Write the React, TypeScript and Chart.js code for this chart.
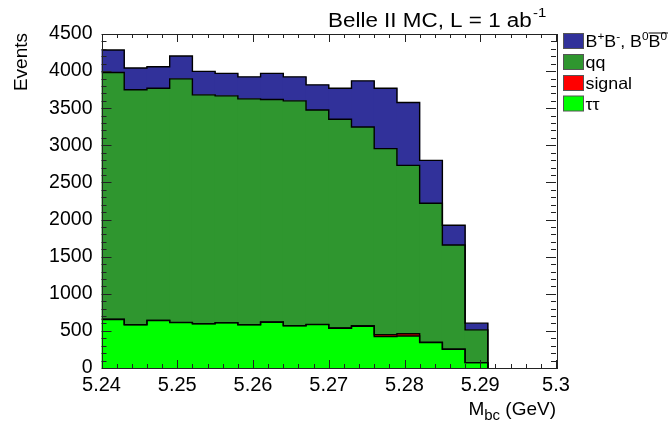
import React, { useEffect, useRef } from "react";
import { Chart, registerables } from "chart.js";

Chart.register(...registerables);

// ---- data ----
const binEdges = [
  5.24, 5.243, 5.246, 5.249, 5.252, 5.255, 5.258, 5.261, 5.264, 5.267,
  5.27, 5.273, 5.276, 5.279, 5.282, 5.285, 5.288, 5.291,
];
const tauTau = [653, 581, 639, 612, 595, 608, 581, 617, 568, 585, 536, 563, 423, 432, 342, 252, 72];
const signal = [3, 3, 3, 3, 3, 3, 3, 3, 3, 3, 3, 8, 25, 30, 4, 2, 0];
const qqbar = [3326, 3164, 3128, 3281, 3082, 3056, 3042, 2997, 3028, 2889, 2812, 2677, 2507, 2268, 1874, 1404, 442];
const bbbar = [302, 293, 288, 307, 316, 302, 297, 352, 324, 338, 419, 621, 815, 847, 577, 265, 90];

const xTickValues = [5.24, 5.25, 5.26, 5.27, 5.28, 5.29, 5.3];
const yTickValues = [0, 500, 1000, 1500, 2000, 2500, 3000, 3500, 4000, 4500];
const xMinorStep = 0.002;
const yMinorStep = 100;

const COLORS = {
  bb: "#31319a",
  qq: "#2f962f",
  sig: "#ff0000",
  tau: "#00ff00",
};

const FONT = "'Liberation Sans', Arial, Helvetica, sans-serif";

function cumulative(...series: number[][]) {
  return series[0].map((_, i) => series.reduce((s, arr) => s + arr[i], 0));
}

const framePlugin = {
  id: "rootFrame",
  afterDraw(chart: any) {
    const { ctx, chartArea, scales } = chart;
    const { left, right, top, bottom } = chartArea;
    const xs = scales.x;
    const ys = scales.y;
    ctx.save();
    ctx.strokeStyle = "#222";
    ctx.lineWidth = 1;
    ctx.strokeRect(Math.round(left) + 0.5, Math.round(top) + 0.5, Math.round(right - left), Math.round(bottom - top));
    ctx.beginPath();
    const xMin = xTickValues[0];
    const xMax = xTickValues[xTickValues.length - 1];
    const nx = Math.round((xMax - xMin) / xMinorStep);
    for (let k = 0; k <= nx; k++) {
      const v = xMin + k * xMinorStep;
      const px = Math.round(xs.getPixelForValue(v)) + 0.5;
      const len = k % 5 === 0 ? 8 : 4;
      ctx.moveTo(px, bottom);
      ctx.lineTo(px, bottom - len);
      ctx.moveTo(px, top);
      ctx.lineTo(px, top + len);
    }
    const yMin = yTickValues[0];
    const yMax = yTickValues[yTickValues.length - 1];
    const ny = Math.round((yMax - yMin) / yMinorStep);
    for (let k = 0; k <= ny; k++) {
      const v = yMin + k * yMinorStep;
      const py = Math.round(ys.getPixelForValue(v)) + 0.5;
      const len = k % 5 === 0 ? 10 : 5;
      ctx.moveTo(left, py);
      ctx.lineTo(left + len, py);
      ctx.moveTo(right, py);
      ctx.lineTo(right - len, py);
    }
    ctx.stroke();

    ctx.fillStyle = "#000";
    ctx.textBaseline = "alphabetic";

    // title
    ctx.save();
    ctx.translate(328, 26.5);
    ctx.scale(1.15, 1);
    ctx.font = `19.5px ${FONT}`;
    ctx.textAlign = "left";
    const main = "Belle II MC, L = 1 ab";
    ctx.fillText(main, 0, 0);
    const w = ctx.measureText(main).width;
    ctx.font = `13px ${FONT}`;
    ctx.fillText("-1", w + 1, -10);
    ctx.restore();

    // y title
    ctx.save();
    ctx.translate(26.5, top - 1);
    ctx.rotate(-Math.PI / 2);
    ctx.font = `19px ${FONT}`;
    ctx.textAlign = "right";
    ctx.fillText("Events", 0, 0);
    ctx.restore();

    // x title: M_bc (GeV), right aligned to plot edge
    ctx.save();
    const rest = " (GeV)";
    ctx.font = `19px ${FONT}`;
    const wM = ctx.measureText("M").width;
    const wRest = ctx.measureText(rest).width;
    ctx.font = `15px ${FONT}`;
    const wSub = ctx.measureText("bc").width;
    const x0 = right - (wM + wSub + wRest);
    const base = 415;
    ctx.font = `19px ${FONT}`;
    ctx.fillText("M", x0, base);
    ctx.font = `15px ${FONT}`;
    ctx.fillText("bc", x0 + wM, base + 5);
    ctx.font = `19px ${FONT}`;
    ctx.fillText(rest, x0 + wM + wSub, base);
    ctx.restore();

    // legend
    const entries = [
      { color: COLORS.bb, key: "bb" },
      { color: COLORS.qq, key: "qq" },
      { color: COLORS.sig, key: "sig" },
      { color: COLORS.tau, key: "tau" },
    ];
    const boxX = 563.5;
    const boxW = 20;
    const boxH = 15;
    const tops = [33.5, 54.5, 75.5, 96];
    entries.forEach((e, i) => {
      const ty = tops[i];
      ctx.fillStyle = e.color;
      ctx.fillRect(boxX, ty, boxW, boxH);
      ctx.strokeStyle = "#555";
      ctx.lineWidth = 1;
      ctx.strokeRect(boxX, ty, boxW, boxH);
      ctx.fillStyle = "#000";
      const bl = ty + 13.5;
      ctx.save();
      ctx.translate(585.5, bl);
      ctx.scale(1.08, 1);
      const big = `16.5px ${FONT}`;
      const small = `11px ${FONT}`;
      if (e.key === "bb") {
        let cx = 0;
        const part = (t: string, sup: boolean, bar = false) => {
          ctx.font = sup ? small : big;
          const ww = ctx.measureText(t).width;
          ctx.fillText(t, cx, sup ? -7 : 0);
          if (bar) {
            ctx.beginPath();
            ctx.lineWidth = 1;
            ctx.strokeStyle = "#000";
            ctx.moveTo(cx, -14);
            ctx.lineTo(cx + ww + 12, -14);
            ctx.stroke();
          }
          cx += ww;
        };
        part("B", false);
        part("+", true);
        part("B", false);
        part("-", true);
        part(", B", false);
        part("0", true);
        part("B", false, true);
        part("0", true);
      } else {
        ctx.font = big;
        const label = e.key === "qq" ? "qq" : e.key === "sig" ? "signal" : "\u03c4\u03c4";
        ctx.fillText(label, 0, 0);
      }
      ctx.restore();
    });
    ctx.restore();
  },
};

export default function App() {
  const ref = useRef<HTMLCanvasElement>(null);

  useEffect(() => {
    const canvas = ref.current;
    if (!canvas) return;
    Chart.defaults.font.family = FONT;
    Chart.defaults.color = "#000";

    const nb = binEdges.length - 1;
    const centers = binEdges.slice(0, nb).map((e, i) => (e + binEdges[i + 1]) / 2);
    const lastEdge = binEdges[nb];

    const barDs = (label: string, values: number[], color: string) => ({
      type: "bar" as const,
      label,
      data: values.map((v, i) => ({ x: centers[i], y: v })),
      backgroundColor: color,
      borderWidth: 0,
      barPercentage: 1.04,
      categoryPercentage: 1,
      stack: "hist",
      order: 2,
    });

    const lineDs = (label: string, tops: number[]) => ({
      type: "line" as const,
      label,
      data: [
        ...binEdges.slice(0, nb).map((e, i) => ({ x: e, y: tops[i] })),
        { x: lastEdge, y: tops[nb - 1] },
        { x: lastEdge, y: 0 },
      ],
      borderColor: "#000",
      borderWidth: 1.4,
      pointRadius: 0,
      fill: false,
      stepped: "before" as const,
      stack: "outline-" + label,
      order: 1,
    });

    const c1 = cumulative(tauTau);
    const c2 = cumulative(tauTau, signal);
    const c3 = cumulative(tauTau, signal, qqbar);
    const c4 = cumulative(tauTau, signal, qqbar, bbbar);

    const chart = new Chart(canvas, {
      type: "bar",
      data: {
        datasets: [
          barDs("ττ", tauTau, COLORS.tau),
          barDs("signal", signal, COLORS.sig),
          barDs("qq", qqbar, COLORS.qq),
          barDs("BB", bbbar, COLORS.bb),
          lineDs("l1", c1),
          lineDs("l2", c2),
          lineDs("l3", c3),
          lineDs("l4", c4),
        ] as any,
      },
      options: {
        animation: false,
        responsive: false,
        maintainAspectRatio: false,
        layout: { padding: { top: 34, right: 112, left: 0, bottom: 0 } },
        plugins: {
          legend: { display: false },
          tooltip: { enabled: false },
          title: { display: false },
        },
        scales: {
          x: {
            type: "linear",
            min: xTickValues[0],
            max: xTickValues[xTickValues.length - 1],
            offset: false,
            stacked: true,
            grid: { display: false, drawTicks: false },
            border: { display: false },
            afterBuildTicks: (s: any) => {
              s.ticks = xTickValues.map((v) => ({ value: v }));
            },
            afterFit: (s: any) => {
              s.height = 57;
            },
            ticks: {
              autoSkip: false,
              maxRotation: 0,
              padding: 5,
              color: "#000",
              font: { size: 20, family: FONT },
              callback: (v: any) => String(Number(Number(v).toFixed(2))),
            },
          },
          y: {
            type: "linear",
            min: yTickValues[0],
            max: yTickValues[yTickValues.length - 1],
            stacked: true,
            grid: { display: false, drawTicks: false },
            border: { display: false },
            afterBuildTicks: (s: any) => {
              s.ticks = yTickValues.map((v) => ({ value: v }));
            },
            afterFit: (s: any) => {
              s.width = 101.5;
            },
            ticks: {
              padding: 9,
              color: "#000",
              font: { size: 19.5, family: FONT },
              callback: (v: any) => String(v),
            },
          },
        },
      } as any,
      plugins: [framePlugin],
    });
    return () => chart.destroy();
  }, []);

  return (
    <div style={{ position: "absolute", left: 0, top: 0, width: 668, height: 425, background: "#fff" }}>
      <canvas ref={ref} width={668} height={425} style={{ display: "block" }} />
    </div>
  );
}
